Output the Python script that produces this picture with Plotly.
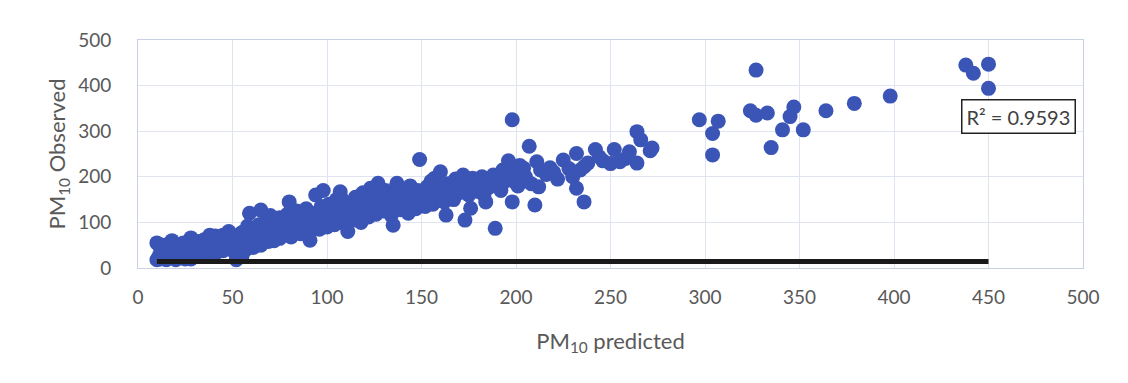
import plotly.graph_objects as go

x_pred = [
    10, 10, 11, 12, 12, 13, 14, 15, 15, 16, 17, 17, 18, 19, 20, 20, 21, 22, 22, 23, 24, 25, 25, 26, 27, 28, 28, 29, 30, 30,
    31, 32, 33, 34, 35, 35, 36, 37, 38, 39, 40, 40, 41, 42, 43, 44, 45, 45, 46, 47, 48, 49, 50, 50,
    51, 52, 53, 54, 55, 55, 56, 57, 58, 59, 60, 60, 61, 62, 63, 64, 65, 65, 66, 67, 68, 69, 70, 70,
    71, 72, 73, 74, 75, 75, 76, 77, 78, 79, 80, 80, 81, 82, 83, 84, 85, 86, 87, 88, 89, 90,
    91, 91, 92, 93, 94, 95, 96, 97, 98, 98, 99, 100, 101, 102, 103, 104, 105, 106, 107, 107, 108, 109, 110,
    111, 112, 113, 114, 115, 116, 117, 118, 119, 120, 121, 122, 123, 124, 125, 126, 127, 128, 129, 130,
    131, 132, 133, 134, 135, 136, 137, 137, 138, 139, 140, 141, 142, 143, 144, 145, 146, 147, 148, 149, 150,
    151, 152, 153, 154, 155, 156, 157, 158, 159, 160, 160, 162, 163, 164, 165, 166, 167, 168, 169, 170,
    171, 172, 173, 174, 175, 176, 177, 178, 179, 180, 181, 182, 183, 184, 185, 186, 187, 188, 189, 190,
    191, 192, 193, 194, 196, 196, 198, 198, 199, 200, 201, 202, 204, 205, 207, 208, 210, 211, 212, 213,
    216, 218, 220, 222, 225, 228, 230, 232, 232, 234, 236, 236, 238,
    242, 244, 246, 250, 252, 255, 258, 260, 264, 264, 266, 271, 272,
    297, 304, 304, 307, 324, 327, 327, 333, 335, 341, 345, 347, 352, 364, 379, 398, 438, 442, 450, 450,
    18, 28, 38, 48, 58, 68, 78, 88, 98, 108, 118, 128,
]
y_obs = [
    18, 55, 25, 40, 20, 50, 30, 18, 45, 22, 35, 55, 25, 40, 18, 50, 30, 45, 22, 35, 55, 20, 40, 28, 48, 20, 35, 55, 25, 45,
    35, 58, 28, 45, 62, 30, 50, 38, 65, 32, 55, 42, 70, 35, 60, 48, 72, 38, 55, 65, 42, 75, 50, 62,
    35, 18, 68, 48, 78, 25, 58, 40, 70, 120, 55, 85, 45, 75, 62, 95, 127, 50, 82, 68, 100, 58, 88, 115,
    72, 60, 95, 80, 110, 65, 88, 102, 75, 118, 145, 90, 68, 105, 82, 125, 95, 75, 112, 88, 130, 100,
    61, 80, 120, 95, 160, 110, 85, 135, 170, 102, 118, 90, 140, 108, 125, 95, 150, 115, 167, 100, 130, 145, 112,
    80, 125, 140, 105, 155, 120, 135, 100, 165, 128, 145, 112, 175, 135, 150, 118, 186, 140, 160, 125,
    170, 135, 150, 115, 94, 160, 186, 140, 175, 128, 155, 145, 165, 120, 180, 138, 158, 130, 170, 238, 145,
    160, 135, 178, 150, 190, 140, 197, 165, 155, 211, 175, 145, 116, 185, 160, 170, 150, 195, 180, 165,
    175, 204, 105, 185, 160, 131, 197, 175, 190, 168, 185, 200, 160, 145, 175, 195, 180, 204, 87, 185,
    200, 170, 215, 190, 235, 205, 325, 145, 190, 210, 180, 225, 219, 200, 267, 185, 138, 233, 178, 215,
    205, 220, 210, 195, 237, 218, 200, 175, 251, 215, 222, 145, 230,
    260, 244, 235, 229, 260, 233, 240, 255, 230, 299, 281, 257, 263,
    325, 295, 248, 322, 345, 335, 434, 340, 264, 303, 332, 353, 303, 345, 361, 377, 445, 427, 447, 394,
    60, 66, 72, 80, 92, 105, 112, 122, 132, 150, 160, 172,
]

line_x = [10, 450]
line_y = [14, 14]

x_ticks = [0, 50, 100, 150, 200, 250, 300, 350, 400, 450, 500]
y_ticks = [0, 100, 200, 300, 400, 500]
r2_text = "R² = 0.9593"

fig = go.Figure()
fig.add_trace(go.Scatter(
    x=x_pred, y=y_obs, mode="markers",
    marker=dict(size=15, color="#3A55B5", line=dict(width=0)),
    showlegend=False,
))
fig.add_trace(go.Scatter(
    x=line_x, y=line_y, mode="lines",
    line=dict(color="#1a1a1a", width=5),
    showlegend=False,
))

font_family = "Lato, 'Open Sans', sans-serif"
fig.update_layout(
    width=1128, height=383,
    margin=dict(l=138, r=45, t=40, b=115),
    paper_bgcolor="white", plot_bgcolor="white",
    font=dict(family=font_family, color="#595959", size=19),
    xaxis=dict(
        range=[0, 500], tickvals=x_ticks, ticktext=[str(v) for v in x_ticks],
        showgrid=True, gridcolor="#dfe4f0", gridwidth=1,
        showline=True, linecolor="#c8d0e4", linewidth=1, mirror=True,
        zeroline=False, ticks="", ticklabelstandoff=12,
        tickfont=dict(size=19, color="#595959"),
        title=dict(text="PM<sub>10</sub> predicted", font=dict(size=22, color="#595959"), standoff=26),
    ),
    yaxis=dict(
        range=[0, 500], tickvals=y_ticks, ticktext=[str(v) for v in y_ticks],
        showgrid=True, gridcolor="#dfe4f0", gridwidth=1,
        showline=True, linecolor="#c8d0e4", linewidth=1, mirror=True,
        zeroline=False, ticks="", ticklabelstandoff=22,
        tickfont=dict(size=19, color="#595959"),
        title=dict(text="PM<sub>10</sub> Observed", font=dict(size=22, color="#595959"), standoff=6),
    ),
    annotations=[dict(
        x=466, y=332, xref="x", yref="y", text=r2_text, showarrow=False,
        font=dict(size=20, color="#404040", family=font_family),
        bordercolor="#222222", borderwidth=1.5, borderpad=4, bgcolor="white",
    )],
)

fig.write_html("out.html")
